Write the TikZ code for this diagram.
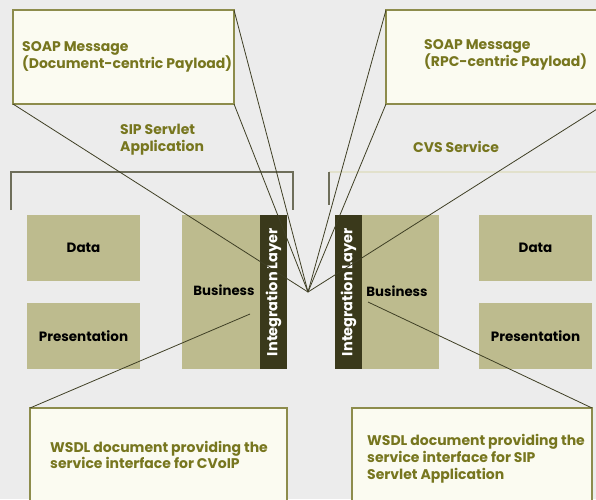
\documentclass[tikz,border=0pt]{standalone}
\usepackage{fontspec}
\setmainfont{Poppins}
\definecolor{bgcol}{HTML}{ECECEC}
\definecolor{boxfill}{HTML}{BDBB8E}
\definecolor{intfill}{HTML}{3A391B}
\definecolor{olivetext}{HTML}{77761F}
\definecolor{calloutfill}{HTML}{FBFBF1}
\definecolor{calloutline}{HTML}{8D8C4C}
\definecolor{leadcol}{HTML}{3F3F25}
\definecolor{bracketcol}{HTML}{6E6E5A}
\definecolor{faintcol}{HTML}{E2E1CC}
\tikzset{
  tier/.style={fill=boxfill, anchor=north west, inner sep=0pt, outer sep=0pt,
    font=\fontsize{13.5}{15}\selectfont\bfseries, text=black},
  tiertext/.style={font=\fontsize{13.3}{15}\selectfont\bfseries, inner sep=0pt},
  intlayer/.style={fill=intfill, anchor=north west, inner sep=0pt, outer sep=0pt},
  inttext/.style={rotate=90, text=white, inner sep=0pt,
    font=\fontsize{14.5}{16}\selectfont\bfseries},
  callout/.style={fill=calloutfill, draw=calloutline, line width=1.3pt,
    anchor=north west, inner sep=0pt, outer sep=0pt},
  ctext/.style={anchor=west, align=left, text=olivetext, inner sep=0pt,
    font=\fontsize{14}{16.8}\selectfont\bfseries},
  lead/.style={draw=leadcol, line width=0.8pt},
  bracketline/.style={draw=bracketcol, line width=1.2pt},
}
\begin{document}
\begin{tikzpicture}[x=1pt,y=-1pt]
\useasboundingbox (0,0) rectangle (596,499);
\clip (0,0) rectangle (596,499);
\fill[bgcol] (0,0) rectangle (596,499);

% application brackets
\draw[bracketline] (11,210) -- (11,172) -- (293,172) -- (293,210);
\draw[faintcol, line width=1.2pt] (329,172) -- (600,172);
\draw[bracketline] (329,172) -- (329,205);

% section titles
\node[ctext] (sipapp) at (120,140) {SIP Servlet\\Application};
\node[ctext] (cvs) at (413,147) {CVS Service};

% left tiers
\node[tier, minimum width=113pt, minimum height=66pt] (ldata) at (27,215) {Data};
\node[tier, minimum width=113pt, minimum height=66pt] (lpres) at (27,303) {Presentation};
\node[tier, minimum width=78pt, minimum height=154pt] (lbus) at (182,215) {};
\node[tiertext] (lbustext) at (224,290) {Business};
\node[intlayer, minimum width=27pt, minimum height=154pt] (lint) at (260,215) {};
\node[inttext] (linttext) at (lint.center) {Integration Layer};

% right tiers
\node[intlayer, minimum width=27pt, minimum height=154pt] (rint) at (335,215) {};
\node[inttext] (rinttext) at (rint.center) {Integration Layer};
\node[tier, minimum width=77pt, minimum height=154pt] (rbus) at (362,215) {};
\node[tiertext] (rbustext) at (397,291) {Business};
\node[tier, minimum width=113pt, minimum height=66pt] (rdata) at (479,215) {Data};
\node[tier, minimum width=113pt, minimum height=66pt] (rpres) at (479,303) {Presentation};

% callout pointers
\coordinate (tip) at (308,292);
\coordinate (lwsdl) at (250,314);
\coordinate (rwsdl) at (368,302);

% SOAP message callouts
\node[callout, minimum width=221pt, minimum height=94pt] (soapdoc) at (13,10) {};
\node[ctext] (soapdoctext) at (22,57) {SOAP Message\\(Document-centric Payload)};
\node[callout, minimum width=219pt, minimum height=94pt] (soaprpc) at (386,10) {};
\node[ctext] (soaprpctext) at (424,55) {SOAP Message\\(RPC-centric Payload)};

\draw[lead] (soapdoc.north east) -- (tip);
\draw[lead] (soapdoc.south east) -- (tip);
\draw[lead] (soapdoc.south west) -- (tip);
\draw[lead] (soaprpc.north west) -- (tip);
\draw[lead] (soaprpc.south west) -- (tip);
\draw[lead] (soaprpc.south east) -- (tip);

% WSDL callouts
\node[callout, minimum width=257pt, minimum height=100pt] (wsdlcv) at (30,408) {};
\node[ctext] (wsdlcvtext) at (50,455) {WSDL document providing the\\service interface for CVoIP};
\node[callout, minimum width=240pt, minimum height=100pt] (wsdlsip) at (352,408) {};
\node[ctext] (wsdlsiptext) at (367,459) {WSDL document providing the\\service interface for SIP\\Servlet Application};

\draw[lead] (wsdlcv.north west) -- (lwsdl);
\draw[lead] (wsdlsip.north east) -- (rwsdl);
\end{tikzpicture}
\end{document}
